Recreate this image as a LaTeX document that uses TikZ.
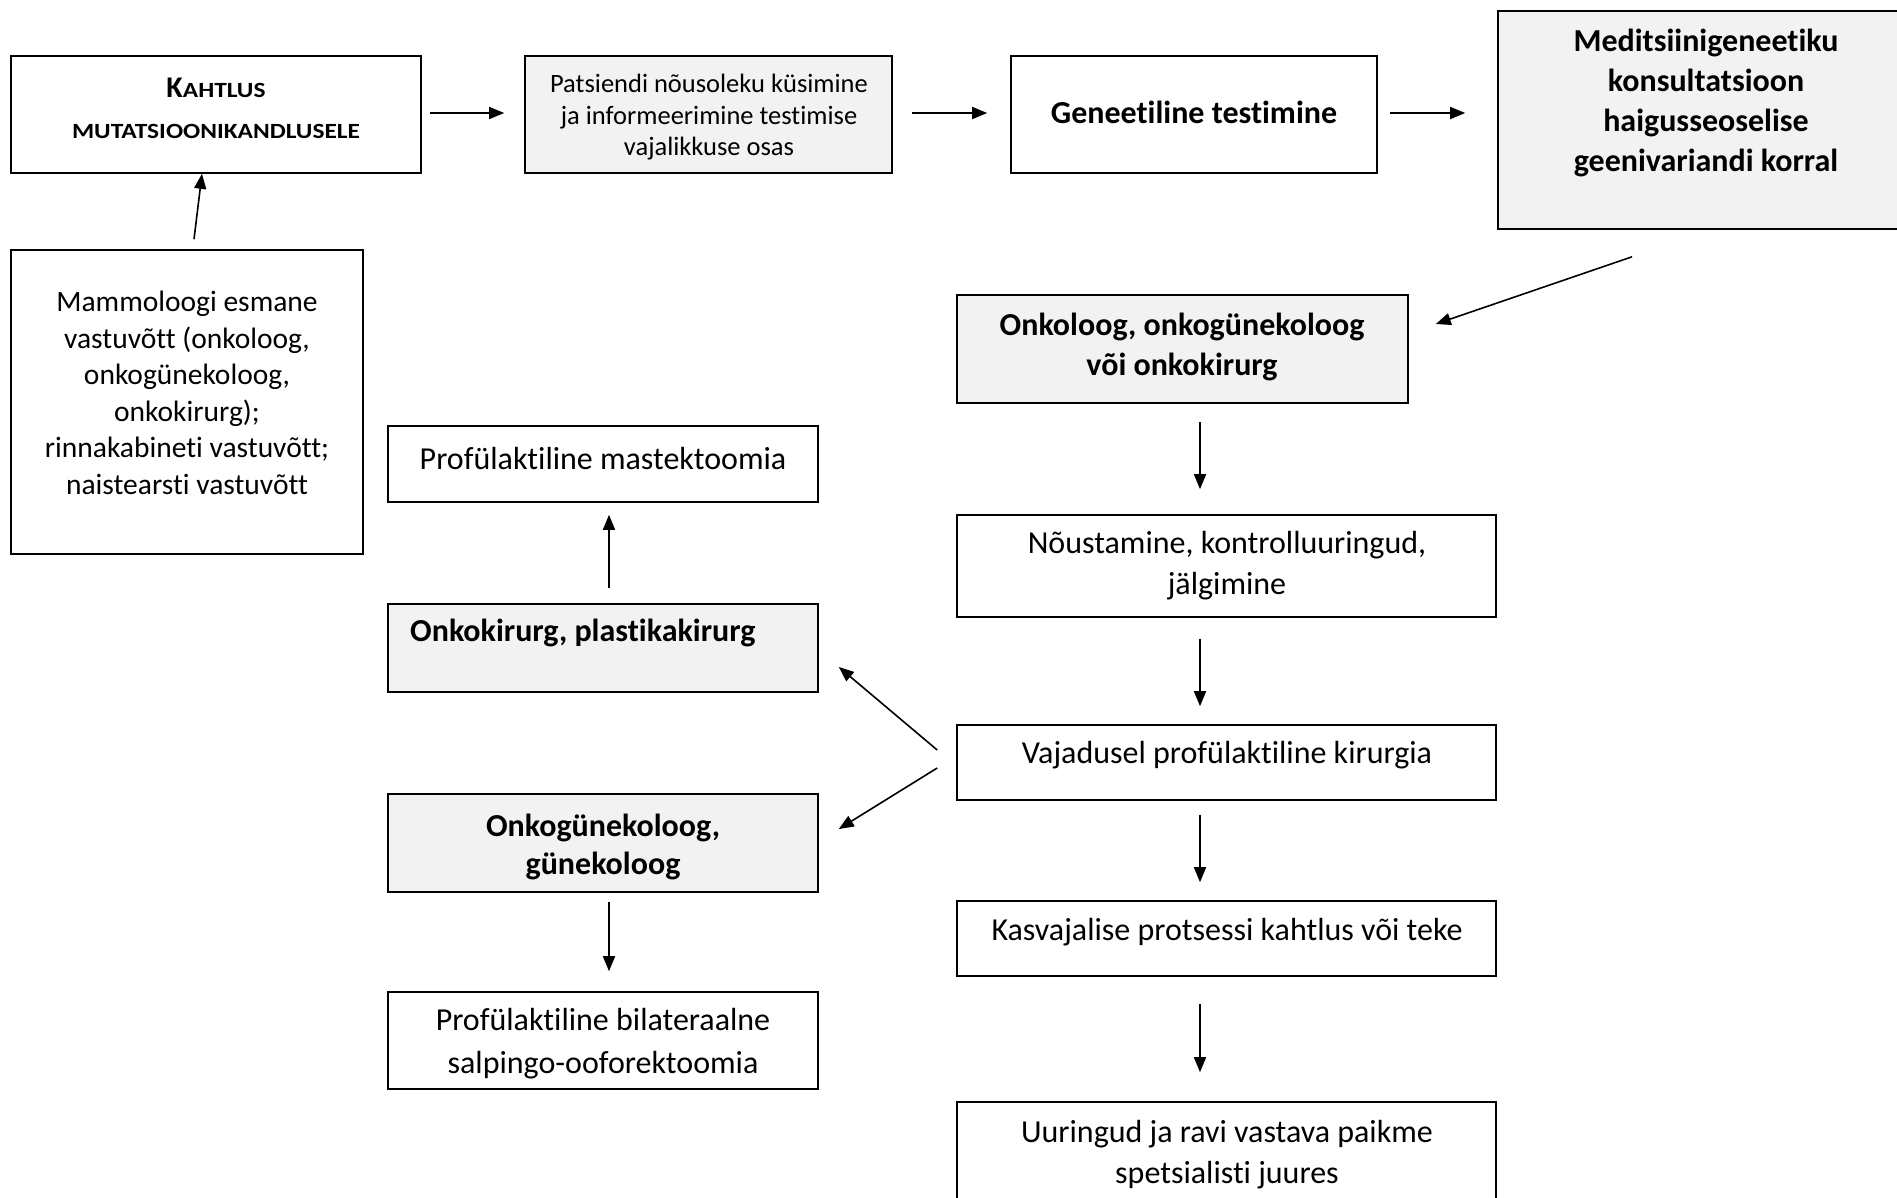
\documentclass[tikz,border=0pt]{standalone}
\usepackage{fontspec}
\setmainfont{Carlito}[Ligatures=NoCommon]
\newfontfamily\scfont{Carlito}[FakeStretch=1.17, Ligatures=NoCommon]
\usetikzlibrary{arrows.meta,calc}
\definecolor{boxgray}{HTML}{F2F2F2}
\begin{document}
\begin{tikzpicture}[x=1pt,y=-1pt,
  box/.style={draw=black, line width=1.6pt, inner sep=0pt, fill=white},
  graybox/.style={box, fill=boxgray},
  txt/.style={align=center, inner sep=0pt, font=\fontsize{32}{41}\selectfont},
  btxt/.style={align=center, inner sep=0pt, font=\fontsize{32}{40}\selectfont\bfseries},
  arr/.style={-{Triangle[length=15pt,width=12pt]}, line width=1.6pt}]
\clip (0,0) rectangle (1897,1197);
\fill[white] (0,0) rectangle (1897,1197);
% boxes
\node[box, minimum width=410pt, minimum height=117pt] (kaht) at (216,114.5) {};
\node[graybox, minimum width=367pt, minimum height=117pt] (pats) at (708.5,114.5) {};
\node[box, minimum width=366pt, minimum height=117pt] (gene) at (1194,114.5) {};
\node[graybox, minimum width=402pt, minimum height=218pt] (medi) at (1699,120) {};
\node[box, minimum width=352pt, minimum height=304pt] (mamm) at (187,402) {};
\node[graybox, minimum width=451pt, minimum height=108pt] (onko) at (1182.5,349) {};
\node[box, minimum width=539pt, minimum height=102pt] (noust) at (1226.5,566) {};
\node[box, minimum width=539pt, minimum height=75pt] (vaj) at (1226.5,762.5) {};
\node[box, minimum width=539pt, minimum height=75pt] (kasv) at (1226.5,938.5) {};
\node[box, minimum width=539pt, minimum height=128pt] (uur) at (1226.5,1166) {};
\node[box, minimum width=430pt, minimum height=76pt] (mast) at (603,464) {};
\node[graybox, minimum width=430pt, minimum height=88pt] (okir) at (603,648) {};
\node[graybox, minimum width=430pt, minimum height=98pt] (ogyn) at (603,843) {};
\node[box, minimum width=430pt, minimum height=97pt] (bilat) at (603,1040.5) {};
% texts
\node[inner sep=0pt, anchor=base, font=\bfseries] (t-kaht1) at (216,97)
  {{\fontsize{30}{30}\selectfont K}{\scfont\fontsize{21.7}{30}\selectfont AHTLUS}};
\node[inner sep=0pt, anchor=base, font=\bfseries\scfont\fontsize{21.7}{30}\selectfont] (t-kaht2) at (216,138)
  {MUTATSIOONIKANDLUSELE};
\node[align=center, inner sep=0pt, font=\fontsize{26.5}{31.5}\selectfont] (t-pats) at (709,117.5)
  {Patsiendi nõusoleku küsimine\\ja informeerimine testimise\\vajalikkuse osas};
\node[btxt] (t-gene) at (1194,112.5) {Geneetiline testimine};
\node[btxt] (t-medi) at (1706,103) {Meditsiinigeneetiku\\konsultatsioon\\haigusseoselise\\geenivariandi korral};
\node[txt, font=\fontsize{29.5}{36.5}\selectfont] (t-mamm) at (187,393)
  {Mammoloogi esmane\\vastuvõtt (onkoloog,\\onkogünekoloog,\\onkokirurg);\\rinnakabineti vastuvõtt;\\naistearsti vastuvõtt};
\node[btxt] (t-onko) at (1182,347) {Onkoloog, onkogünekoloog\\või onkokirurg};
\node[txt] (t-noust) at (1227,566) {Nõustamine, kontrolluuringud,\\jälgimine};
\node[txt] (t-vaj) at (1227,755) {Vajadusel profülaktiline kirurgia};
\node[txt] (t-kasv) at (1227,932) {Kasvajalise protsessi kahtlus või teke};
\node[txt] (t-uur) at (1227,1155) {Uuringud ja ravi vastava paikme\\spetsialisti juures};
\node[txt] (t-mast) at (603,458.5) {Profülaktiline mastektoomia};
\node[btxt, anchor=west] (t-okir) at (410,633) {Onkokirurg, plastikakirurg};
\node[btxt, font=\fontsize{32}{38.5}\selectfont\bfseries] (t-ogyn) at (603,847) {Onkogünekoloog,\\günekoloog};
\node[txt, font=\fontsize{32}{43}\selectfont] (t-bilat) at (603,1043.5) {Profülaktiline bilateraalne\\salpingo-ooforektoomia};
% connectors
\draw[arr] ($(mamm.north)+(7,-10)$) -- ($(kaht.south)+(-14,0)$);
\draw[arr] ($(kaht.east)+(8,-1.5)$) -- ($(pats.west)+(-20,-1.5)$);
\draw[arr] ($(pats.east)+(19,-1.5)$) -- ($(gene.west)+(-23,-1.5)$);
\draw[arr] ($(gene.east)+(12,-1.5)$) -- ($(medi.west)+(-32,-7)$);
\draw[arr] ($(medi.south)+(-67,27)$) -- ($(onko.east)+(27,-25)$);
\draw[arr] ($(onko.south)+(17.5,18)$) -- ($(noust.north)+(-26.5,-25)$);
\draw[arr] ($(noust.south)+(-26.5,21)$) -- ($(vaj.north)+(-26.5,-18)$);
\draw[arr] ($(vaj.south)+(-26.5,14)$) -- ($(kasv.north)+(-26.5,-18)$);
\draw[arr] ($(kasv.south)+(-26.5,27)$) -- ($(uur.north)+(-26.5,-29)$);
\draw[arr] ($(okir.north)+(6,-15)$) -- ($(mast.south)+(6,12)$);
\draw[arr] ($(vaj.west)+(-19,-12.5)$) -- ($(okir.east)+(20,19)$);
\draw[arr] ($(vaj.west)+(-19,5.5)$) -- ($(ogyn.east)+(20,-14)$);
\draw[arr] ($(ogyn.south)+(6,9)$) -- ($(bilat.north)+(6,-20)$);
\end{tikzpicture}
\end{document}
